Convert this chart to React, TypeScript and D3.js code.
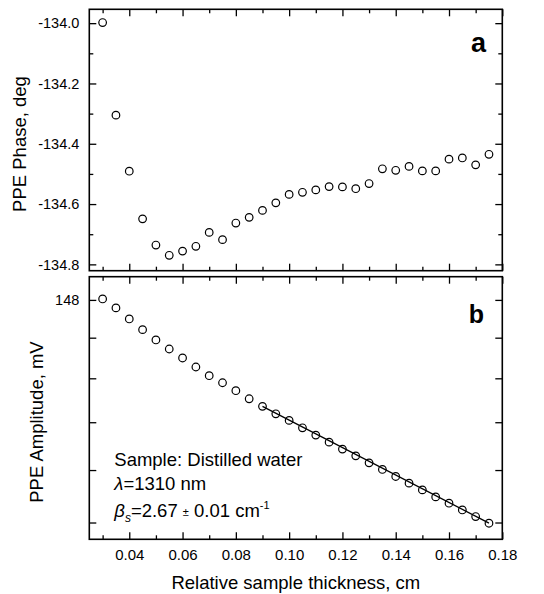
import React, { useEffect, useRef } from 'react';
import * as d3 from 'd3';

// thickness, cm
const thickness = [
  0.03, 0.035, 0.04, 0.045, 0.05, 0.055, 0.06, 0.065, 0.07, 0.075,
  0.08, 0.085, 0.09, 0.095, 0.1, 0.105, 0.11, 0.115, 0.12, 0.125,
  0.13, 0.135, 0.14, 0.145, 0.15, 0.155, 0.16, 0.165, 0.17, 0.175,
];
// PPE phase, deg (panel a)
const phase = [
  -133.998, -134.305, -134.491, -134.649, -134.736, -134.77, -134.756, -134.74, -134.694, -134.718,
  -134.663, -134.644, -134.621, -134.596, -134.568, -134.561, -134.553, -134.542, -134.543, -134.549,
  -134.532, -134.483, -134.488, -134.475, -134.49, -134.49, -134.451, -134.447, -134.47, -134.435,
];
// PPE amplitude, mV (panel b)
const amplitude = [
  148.27, 145.82, 142.87, 140.07, 137.42, 135.14, 132.91, 130.71, 128.62, 126.95,
  125.09, 123.24, 121.52, 119.86, 118.4, 116.79, 115.22, 113.73, 112.27, 110.88,
  109.45, 108.12, 106.72, 105.41, 104.1, 102.76, 101.57, 100.31, 99.09, 97.87,
];
// linear fit of ln(amplitude), drawn from 0.09 to 0.175
const fitX = [0.09, 0.175];
const fitY = [121.5, 97.9];

const xMajor = [0.04, 0.06, 0.08, 0.1, 0.12, 0.14, 0.16, 0.18];
const xMinor = [0.03, 0.05, 0.07, 0.09, 0.11, 0.13, 0.15, 0.17];
const phaseMajor = [-134.0, -134.2, -134.4, -134.6, -134.8];
const phaseMinor = [-134.1, -134.3, -134.5, -134.7];
const ampTicks = [148, 138, 128, 118, 108, 98];
const ampLabels = ['148', '', '', '', '', ''];

const W = 544;
const H = 594;
const FONT = '"Liberation Sans", Arial, sans-serif';

const App = () => {
  const ref = useRef<SVGSVGElement>(null);

  useEffect(() => {
    const svg = d3.select(ref.current);
    svg.selectAll('*').remove();

    const left = 89.3, right = 502.3;
    const aTop = 9.3, aBot = 270.7;
    const bTop = 276.7, bBot = 539.3;

    const x = d3.scaleLinear().domain([0.025, 0.18]).range([left, right]);
    const yA = d3.scaleLinear().domain([-134.821, -133.954]).range([aBot, aTop]);
    const yB = d3.scaleLog().domain([95, 154.5]).range([bBot, bTop]);

    // plain hyphen for negatives, like the original
    const fmt2 = (d) => d.toFixed(2);
    const fmt1 = (d) => d.toFixed(1);

    const styleAxis = (g) => {
      g.select('.domain').remove();
      g.selectAll('line').attr('stroke', '#000').attr('stroke-width', 1.3);
      g.selectAll('text').attr('font-family', FONT).attr('fill', '#000');
    };

    const panel = (yScale, top, bot, major, minor, labels) => {
      // x ticks, top and bottom, pointing inward
      svg.append('g').attr('transform', `translate(0,${bot})`)
        .call(d3.axisBottom(x).tickValues(xMajor).tickSize(-7).tickFormat(() => ''))
        .call(styleAxis);
      svg.append('g').attr('transform', `translate(0,${bot})`)
        .call(d3.axisBottom(x).tickValues(xMinor).tickSize(-4).tickFormat(() => ''))
        .call(styleAxis);
      svg.append('g').attr('transform', `translate(0,${top})`)
        .call(d3.axisTop(x).tickValues(xMajor).tickSize(-7).tickFormat(() => ''))
        .call(styleAxis);
      svg.append('g').attr('transform', `translate(0,${top})`)
        .call(d3.axisTop(x).tickValues(xMinor).tickSize(-4).tickFormat(() => ''))
        .call(styleAxis);

      // y ticks, left (labelled) and right
      svg.append('g').attr('transform', `translate(${left},0)`)
        .call(d3.axisLeft(yScale).tickValues(major).tickSize(-7).tickPadding(10).tickFormat(labels))
        .call(styleAxis)
        .selectAll('text').attr('font-size', 14.5);
      svg.append('g').attr('transform', `translate(${right},0)`)
        .call(d3.axisRight(yScale).tickValues(major).tickSize(-7).tickFormat(() => ''))
        .call(styleAxis);
      if (minor.length) {
        svg.append('g').attr('transform', `translate(${left},0)`)
          .call(d3.axisLeft(yScale).tickValues(minor).tickSize(-4).tickFormat(() => ''))
          .call(styleAxis);
        svg.append('g').attr('transform', `translate(${right},0)`)
          .call(d3.axisRight(yScale).tickValues(minor).tickSize(-4).tickFormat(() => ''))
          .call(styleAxis);
      }

      svg.append('rect')
        .attr('x', left).attr('y', top)
        .attr('width', right - left).attr('height', bot - top)
        .attr('fill', 'none').attr('stroke', '#000').attr('stroke-width', 1.6);
    };

    panel(yA, aTop, aBot, phaseMajor, phaseMinor, (d) => fmt1(d));
    panel(yB, bTop, bBot, ampTicks, [], (d, i) => ampLabels[i]);

    // x tick labels under panel b
    svg.append('g').attr('transform', `translate(0,${bBot})`)
      .call(d3.axisBottom(x).tickValues(xMajor).tickSize(0).tickPadding(10).tickFormat((d) => fmt2(d)))
      .call(styleAxis)
      .selectAll('text').attr('font-size', 15);

    // fit line
    const line = d3.line().x((d) => x(d[0])).y((d) => yB(d[1]));
    svg.append('path')
      .datum(fitX.map((v, i) => [v, fitY[i]]))
      .attr('d', line)
      .attr('fill', 'none').attr('stroke', '#000').attr('stroke-width', 1.3);

    // markers
    svg.selectAll('.pa')
      .data(thickness)
      .enter()
      .append('circle')
      .attr('class', 'pa')
      .attr('cx', (d) => x(d))
      .attr('cy', (d, i) => yA(phase[i]))
      .attr('r', 3.8)
      .attr('fill', '#fff').attr('stroke', '#000').attr('stroke-width', 1.2);

    svg.selectAll('.pb')
      .data(thickness)
      .enter()
      .append('circle')
      .attr('class', 'pb')
      .attr('cx', (d) => x(d))
      .attr('cy', (d, i) => yB(amplitude[i]))
      .attr('r', 3.8)
      .attr('fill', 'none').attr('stroke', '#000').attr('stroke-width', 1.2);

    // panel letters
    svg.append('text').attr('x', 486).attr('y', 52).attr('text-anchor', 'end')
      .attr('font-family', FONT).attr('font-weight', 'bold').attr('font-size', 27).text('a');
    svg.append('text').attr('x', 484).attr('y', 322.7).attr('text-anchor', 'end')
      .attr('font-family', FONT).attr('font-weight', 'bold').attr('font-size', 25).text('b');

    // axis titles
    svg.append('text')
      .attr('transform', `translate(26,${(aTop + aBot) / 2 + 4}) rotate(-90)`)
      .attr('text-anchor', 'middle')
      .attr('font-family', FONT).attr('font-size', 18.5).text('PPE Phase, deg');
    svg.append('text')
      .attr('transform', 'translate(43,422) rotate(-90)')
      .attr('text-anchor', 'middle')
      .attr('font-family', FONT).attr('font-size', 18.5).text('PPE Amplitude, mV');
    svg.append('text')
      .attr('x', (left + right) / 2).attr('y', 589)
      .attr('text-anchor', 'middle')
      .attr('font-family', FONT).attr('font-size', 18.5).text('Relative sample thickness, cm');

    // annotation
    const note = svg.append('g').attr('font-family', FONT).attr('font-size', 18.5);
    note.append('text').attr('x', 114.3).attr('y', 466).text('Sample: Distilled water');
    const l2 = note.append('text').attr('x', 114.3).attr('y', 489.5);
    l2.append('tspan').attr('font-style', 'italic').text('λ');
    l2.append('tspan').text('=1310 nm');
    const l3 = note.append('text').attr('x', 114.3).attr('y', 517);
    l3.append('tspan').attr('font-style', 'italic').text('β');
    l3.append('tspan').attr('font-style', 'italic').attr('font-size', 12).attr('dy', 5).text('s');
    l3.append('tspan').attr('dy', -5).text('=2.67 ');
    l3.append('tspan').attr('font-size', 11).attr('dy', -1).text('±');
    l3.append('tspan').attr('dy', 1).text(' 0.01 cm');
    l3.append('tspan').attr('font-size', 11).attr('dy', -8).text('-1');
  }, []);

  return (
    <svg
      ref={ref}
      width={W}
      height={H}
      style={{ position: 'absolute', left: 0, top: 0, background: '#fff' }}
    />
  );
};

export default App;
